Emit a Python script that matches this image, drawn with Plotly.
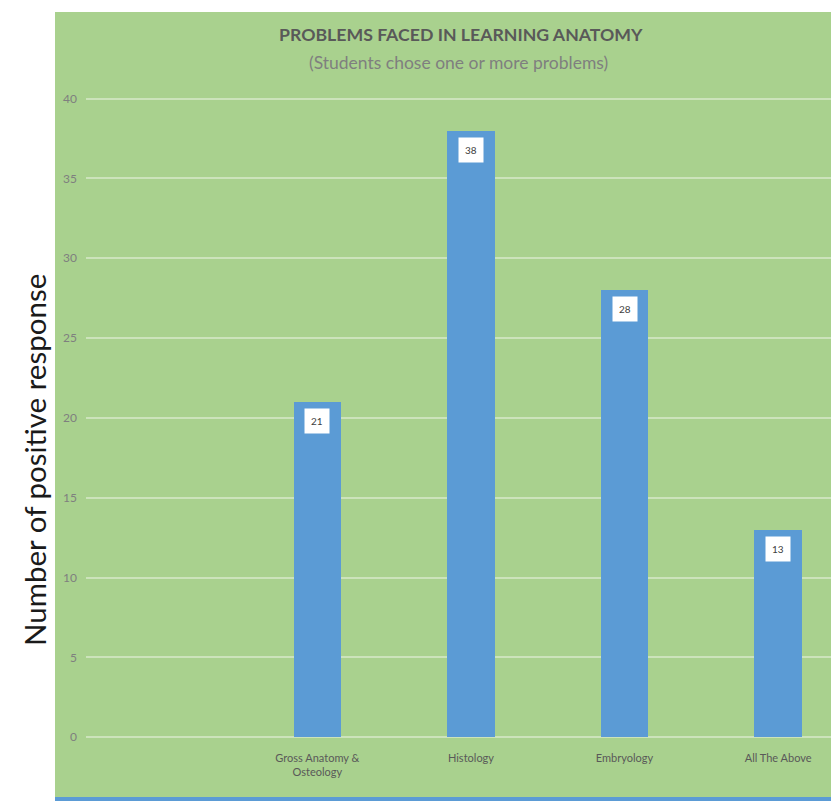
import plotly.graph_objects as go

categories = ["Gross Anatomy &<br>Osteology", "Histology", "Embryology", "All The Above"]
values = [21, 38, 28, 13]
y_ticks = [0, 5, 10, 15, 20, 25, 30, 35, 40]

W, H = 831, 801
L, R, T, B = 86, 0, 97, 63
PW, PH = W - L - R, H - T - B


def px_x(x):
    return (x - L) / PW


def px_y(y):
    return 1 - (y - T) / PH


fig = go.Figure()
fig.add_trace(go.Bar(
    x=categories, y=values, width=0.31,
    marker=dict(color="#5b9bd5", line=dict(width=0)),
    hoverinfo="skip",
))

for c, v in zip(categories, values):
    fig.add_annotation(
        x=c, y=v, xref="x", yref="y", text=str(v), showarrow=False,
        yanchor="top", yshift=-6, bgcolor="white", borderpad=6,
        font=dict(family="Lato, sans-serif", size=10, color="#404040"),
    )

# green chart area and blue bottom edge
fig.add_shape(type="rect", xref="paper", yref="paper",
              x0=px_x(55), x1=1.0, y0=px_y(797), y1=px_y(12),
              fillcolor="#a9d18e", line=dict(width=0), layer="below")
fig.add_shape(type="rect", xref="paper", yref="paper",
              x0=px_x(55), x1=1.0, y0=px_y(801), y1=px_y(797),
              fillcolor="#5b9bd5", line=dict(width=0), layer="below")

fig.add_annotation(
    x=px_x(461), y=px_y(35), xref="paper", yref="paper",
    xanchor="center", yanchor="middle",
    text="<b>PROBLEMS FACED IN LEARNING ANATOMY</b>", showarrow=False,
    font=dict(family="Lato, sans-serif", size=17.7, color="#595959"),
)
fig.add_annotation(
    x=px_x(458), y=px_y(62), xref="paper", yref="paper",
    xanchor="center", yanchor="middle",
    text="(Students chose one or more problems)", showarrow=False,
    font=dict(family="Lato, sans-serif", size=17.5, color="#7f7f7f"),
)
fig.add_annotation(
    x=px_x(34), y=px_y(460), xref="paper", yref="paper",
    xanchor="center", yanchor="middle",
    text="Number of positive response", showarrow=False, textangle=-90,
    font=dict(family="Lato, sans-serif", size=29.5, color="#1a1a1a"),
)

fig.update_layout(
    width=W, height=H,
    margin=dict(l=L, r=R, t=T, b=B, pad=0),
    paper_bgcolor="white", plot_bgcolor="rgba(0,0,0,0)",
    showlegend=False, bargap=0,
    font=dict(family="Lato, sans-serif"),
)
fig.update_xaxes(
    type="category", range=[-1.506, 3.344], showgrid=False, zeroline=False,
    showline=False, ticks="", ticklabelstandoff=12,
    tickfont=dict(size=11, color="#595959"),
)
fig.update_yaxes(
    range=[-0.05, 40.1], tickvals=y_ticks, showgrid=True,
    gridcolor="rgba(205,228,190,0.95)", gridwidth=1.5,
    zeroline=True, zerolinecolor="rgba(205,228,190,0.95)", zerolinewidth=1.5,
    showline=False, ticks="",
    tickfont=dict(size=12, color="#7f7f7f"), ticklabelstandoff=8,
)

fig.write_html("out.html")
